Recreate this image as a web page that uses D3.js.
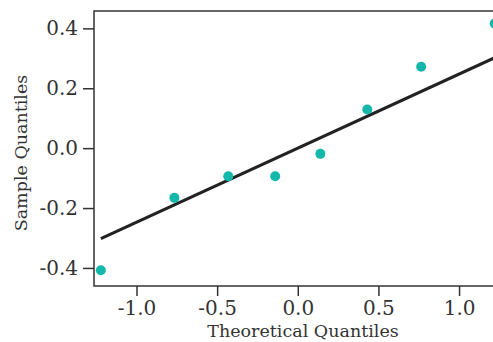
<!DOCTYPE html>
<html><head><meta charset="utf-8">
<script src="https://cdn.jsdelivr.net/npm/d3@7"></script>
<style>html,body{margin:0;padding:0;background:#fff;overflow:hidden}</style>
</head><body>
<script>
const theoretical = [-1.221, -0.765, -0.431, -0.140, 0.140, 0.431, 0.765, 1.221];
const sample = [-0.408, -0.166, -0.094, -0.094, -0.019, 0.129, 0.272, 0.416];
const lineX = [-1.221, 1.221];
const lineY = [-0.302, 0.302];
const xTicks = [-1.0, -0.5, 0.0, 0.5, 1.0];
const yTicks = [-0.4, -0.2, 0.0, 0.2, 0.4];

(function () {
const W = 493, H = 342;
const mLeft = 94, mTop = 11, mBottom = 286, mRight = 506;
const font = "'DejaVu Serif', serif";
const textColor = "#333";

const svg = d3.select("body").append("svg").attr("width", W).attr("height", H);

const x = d3.scaleLinear().domain([-1.2635, 1.291]).range([mLeft, mRight]);
const y = d3.scaleLinear().domain([-0.4603, 0.458]).range([mBottom, mTop]);

svg.append("rect").attr("x", mLeft).attr("y", mTop).attr("width", mRight - mLeft).attr("height", mBottom - mTop)
  .attr("fill", "none").attr("stroke", "#333").attr("stroke-width", 1.5);

const fmt = d => d3.format(".1f")(d).replace("\u2212", "-");
const xAxis = svg.append("g").attr("transform", `translate(0,${mBottom})`)
  .call(d3.axisBottom(x).tickValues(xTicks).tickFormat(fmt).tickSize(10).tickPadding(5));
const yAxis = svg.append("g").attr("transform", `translate(${mLeft},0)`)
  .call(d3.axisLeft(y).tickValues(yTicks).tickFormat(fmt).tickSize(11).tickPadding(5));
[xAxis, yAxis].forEach(g => {
  g.select(".domain").remove();
  g.selectAll(".tick line").attr("stroke", "#333").attr("stroke-width", 1.5);
  g.selectAll(".tick text").attr("fill", textColor).style("font-family", font).style("font-size", "20px");
});

svg.append("line")
  .attr("x1", x(lineX[0])).attr("y1", y(lineY[0]))
  .attr("x2", x(lineX[1])).attr("y2", y(lineY[1]))
  .attr("stroke", "#222").attr("stroke-width", 3);

svg.append("g").selectAll("circle").data(theoretical).join("circle")
  .attr("cx", d => x(d)).attr("cy", (d, i) => y(sample[i])).attr("r", 5)
  .attr("fill", "#13b8aa");

svg.append("text").attr("x", 303).attr("y", 337).attr("text-anchor", "middle")
  .attr("fill", textColor).style("font-family", font).style("font-size", "17.5px")
  .text("Theoretical Quantiles");
svg.append("text").attr("transform", "translate(27,153) rotate(-90)").attr("text-anchor", "middle")
  .attr("fill", textColor).style("font-family", font).style("font-size", "17.5px")
  .text("Sample Quantiles");
})();
</script>
</body></html>
